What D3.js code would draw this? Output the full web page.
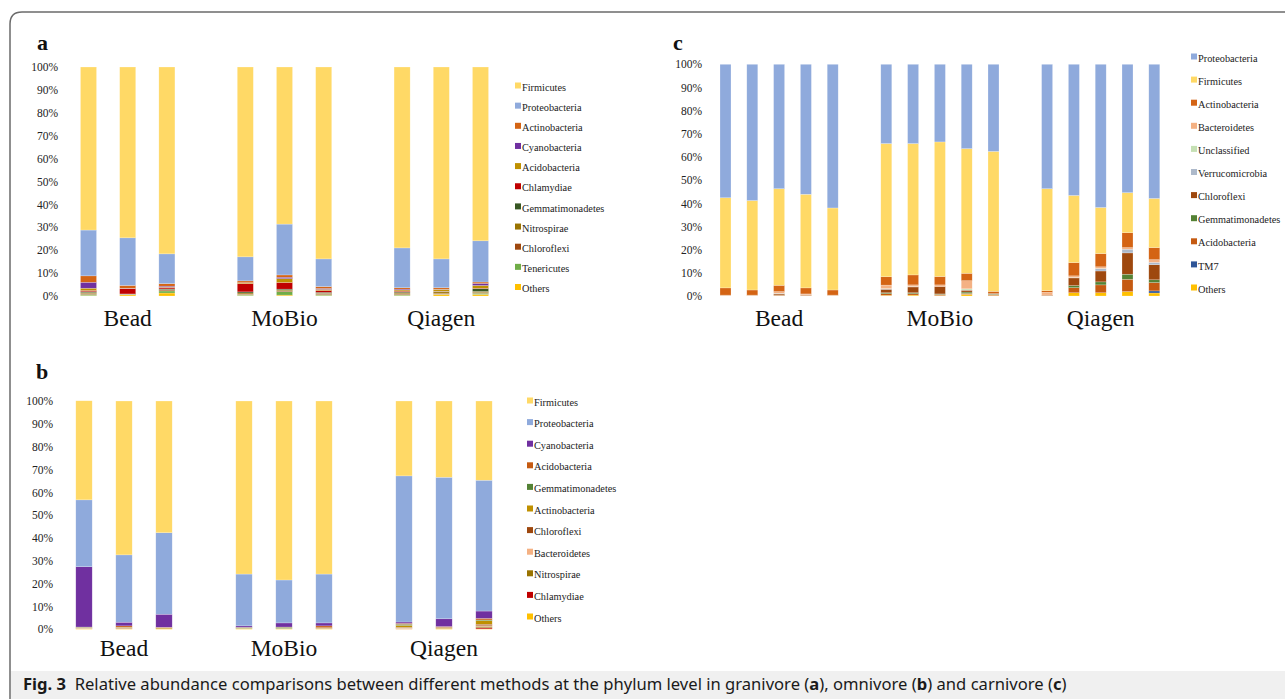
<!DOCTYPE html>
<html>
<head>
<meta charset="utf-8">
<script src="https://cdn.jsdelivr.net/npm/d3@7"></script>
<style>
body { margin: 0; background: #fff; }
svg { display: block; }
</style>
</head>
<body>
<svg id="fig" width="1285" height="699"></svg>
<script>
// ---- data (percent) ----
const groups = ['Bead', 'MoBio', 'Qiagen']
const ticks = [0, 10, 20, 30, 40, 50, 60, 70, 80, 90, 100]

// granivore (a): 3 samples per method
const phylaA = ['Firmicutes', 'Proteobacteria', 'Actinobacteria', 'Cyanobacteria', 'Acidobacteria', 'Chlamydiae',
  'Gemmatimonadetes', 'Nitrospirae', 'Chloroflexi', 'Tenericutes', 'Others']
const colorsA = ['#ffd966', '#8faadc', '#d46414', '#7030a0', '#bf9000', '#c00000',
  '#385723', '#997300', '#9e480e', '#70ad47', '#ffc000']
const valuesA = [
  [71.2, 74.6, 81.6, 82.9, 68.6, 83.8, 79.0, 83.8, 75.9],
  [20.0, 20.8, 13.0, 10.5, 22.2, 12.1, 17.4, 12.6, 18.0],
  [2.8, 1.2, 1.1, 0.8, 1.0, 0.8, 0.6, 0.6, 0.6],
  [2.6, 0.1, 0.4, 0.1, 0.6, 0.4, 0.4, 0.1, 0.9],
  [1.0, 0.1, 0.2, 0.3, 1.7, 0.5, 0.5, 0.8, 1.2],
  [0.5, 2.3, 0.6, 3.6, 2.9, 0.8, 0.4, 0.1, 0.2],
  [0.4, 0.1, 0.3, 0.5, 0.4, 0.4, 0.4, 0.2, 1.2],
  [0.4, 0.1, 0.2, 0.5, 0.4, 0.3, 0.4, 0.6, 0.5],
  [0.4, 0.1, 0.4, 0.3, 0.3, 0.3, 0.3, 0.4, 0.3],
  [0.5, 0.1, 0.9, 0.3, 1.5, 0.4, 0.4, 0.1, 0.5],
  [0.2, 0.5, 1.3, 0.2, 0.4, 0.2, 0.2, 0.7, 0.7]
]

// omnivore (b)
const phylaB = ['Firmicutes', 'Proteobacteria', 'Cyanobacteria', 'Acidobacteria', 'Gemmatimonadetes', 'Actinobacteria',
  'Chloroflexi', 'Bacteroidetes', 'Nitrospirae', 'Chlamydiae', 'Others']
const colorsB = ['#ffd966', '#8faadc', '#7030a0', '#c55a11', '#548235', '#bf9000',
  '#9e480e', '#f4b183', '#997300', '#c00000', '#ffc000']
const valuesB = [
  [43.4, 67.4, 57.7, 75.8, 78.4, 75.8, 32.8, 33.4, 34.7],
  [29.3, 29.5, 35.7, 22.7, 18.8, 21.4, 64.0, 62.0, 57.3],
  [26.4, 1.6, 5.7, 0.6, 1.8, 1.3, 0.6, 3.4, 3.2],
  [0.1, 0.6, 0.2, 0.1, 0.1, 0.8, 0.4, 0.4, 0.7],
  [0.3, 0.1, 0.05, 0.3, 0.5, 0.1, 0.5, 0.1, 0.3],
  [0.1, 0.3, 0.4, 0.3, 0.2, 0.2, 0.8, 0.3, 1.6],
  [0.1, 0.2, 0.05, 0, 0, 0.2, 0.3, 0.1, 0.6],
  [0.05, 0.05, 0, 0, 0, 0, 0.2, 0, 0.3],
  [0.1, 0.05, 0, 0, 0, 0, 0.2, 0, 0.6],
  [0.05, 0, 0, 0, 0, 0, 0.1, 0, 0.5],
  [0.2, 0.2, 0.2, 0.2, 0.2, 0.2, 0.1, 0.3, 0.2]
]

// carnivore (c): 5 samples per method
const phylaC = ['Proteobacteria', 'Firmicutes', 'Actinobacteria', 'Bacteroidetes', 'Unclassified', 'Verrucomicrobia',
  'Chloroflexi', 'Gemmatimonadetes', 'Acidobacteria', 'TM7', 'Others']
const colorsC = ['#8faadc', '#ffd966', '#d46414', '#f4b183', '#c5e0b4', '#adb9ca',
  '#9e480e', '#548235', '#c55a11', '#2f5597', '#ffc000']
const valuesC = [
  [57.6, 58.8, 53.7, 56.1, 62.0, 34.2, 34.2, 33.5, 36.4, 37.6, 53.7, 56.6, 61.8, 55.4, 57.9],
  [38.9, 38.6, 41.7, 40.4, 35.4, 57.5, 56.7, 58.1, 53.8, 60.4, 44.0, 29.0, 19.9, 17.3, 21.2],
  [3.1, 2.2, 2.7, 2.6, 2.2, 3.6, 4.3, 3.6, 3.2, 0.9, 0.7, 5.7, 5.7, 6.4, 5.2],
  [0.1, 0.1, 0.7, 0.3, 0.1, 1.5, 0.7, 0.7, 3.5, 0, 1.2, 0.7, 0.7, 0.7, 1.2],
  [0, 0, 0.1, 0, 0, 0.1, 0.1, 0, 0.5, 0, 0, 0.1, 0.1, 0, 0],
  [0, 0, 0.1, 0, 0, 0.2, 0.1, 0, 0.1, 0, 0, 0.1, 1.0, 1.6, 1.0],
  [0.1, 0.1, 0.5, 0.3, 0.1, 1.5, 2.5, 3.2, 0.8, 0.3, 0.2, 3.3, 4.7, 9.2, 6.5],
  [0, 0, 0.1, 0, 0, 0.4, 0.4, 0.2, 0.6, 0.3, 0, 0.9, 1.3, 2.2, 1.2],
  [0.1, 0.1, 0.3, 0.2, 0.1, 0.7, 0.6, 0.5, 0.4, 0.3, 0.1, 2.2, 3.4, 5.3, 3.6],
  [0, 0, 0, 0, 0, 0, 0, 0, 0, 0, 0, 0, 0, 0, 0.9],
  [0.1, 0.1, 0.1, 0.1, 0.1, 0.3, 0.4, 0.2, 0.7, 0.2, 0.1, 1.4, 1.4, 1.9, 1.3]
]

const serif = '"Liberation Serif", "Times New Roman", serif'
const svg = d3.select('#fig')

// figure frame + caption band
svg.append('rect')
  .attr('x', 11).attr('y', 671).attr('width', 1274).attr('height', 28)
  .attr('fill', '#f0f0f0')
svg.append('path')
  .attr('d', 'M10,699 V24 Q10,12 22,12 H1285')
  .attr('fill', 'none')
  .attr('stroke', '#6b6b6b')
  .attr('stroke-width', 1.5)

function drawPanel(cfg) {
  const per = cfg.values[0].length / groups.length
  const slots = []
  const samples = []
  groups.forEach((g, gi) => {
    if (gi > 0) slots.push('gap' + gi)
    for (let i = 0; i < per; i++) {
      slots.push(g + ' ' + (i + 1))
      samples.push(g + ' ' + (i + 1))
    }
  })

  const x = d3.scaleBand()
    .domain(slots)
    .range(cfg.xRange)
    .paddingInner(0.59)
    .paddingOuter(0.295)

  const y = d3.scaleLinear()
    .domain([0, 100])
    .range(cfg.yRange)

  const rows = samples.map((s, si) => {
    const r = { sample: s }
    cfg.phyla.forEach((p, pi) => { r[p] = cfg.values[pi][si] })
    return r
  })

  const color = d3.scaleOrdinal().domain(cfg.phyla).range(cfg.colors)

  // Excel stacks the last legend entry at the bottom
  const series = d3.stack().keys(cfg.phyla.slice().reverse())(rows)

  const g = svg.append('g')

  g.append('g')
    .selectAll('g')
    .data(series)
    .join('g')
    .attr('fill', d => color(d.key))
    .selectAll('rect')
    .data(d => d)
    .join('rect')
    .attr('x', d => x(d.data.sample))
    .attr('y', d => y(d[1]))
    .attr('width', x.bandwidth())
    .attr('height', d => Math.max(0, y(d[0]) - y(d[1])))
    .attr('stroke', '#ffffff')
    .attr('stroke-opacity', 0.45)
    .attr('stroke-width', 0.5)

  // y axis: labels only
  const axis = g.append('g')
    .attr('transform', `translate(${cfg.tickX},0)`)
    .call(d3.axisLeft(y).tickValues(ticks).tickFormat(d => d + '%').tickSize(0).tickPadding(0))
  axis.select('.domain').remove()
  axis.attr('font-family', serif).attr('font-size', 11.5)
  axis.selectAll('text').attr('fill', '#222')

  // group labels
  groups.forEach(gname => {
    const cs = samples.filter(s => s.startsWith(gname + ' ')).map(s => x(s) + x.bandwidth() / 2)
    g.append('text')
      .attr('x', d3.mean(cs))
      .attr('y', cfg.labelY)
      .attr('text-anchor', 'middle')
      .attr('font-family', serif)
      .attr('font-size', 23.5)
      .attr('fill', '#111')
      .text(gname)
  })

  // panel letter
  g.append('text')
    .attr('x', cfg.letter[1])
    .attr('y', cfg.letter[2])
    .attr('font-family', serif)
    .attr('font-weight', 'bold')
    .attr('font-size', 22)
    .attr('fill', '#111')
    .text(cfg.letter[0])

  // legend
  const leg = g.append('g')
    .selectAll('g')
    .data(cfg.phyla)
    .join('g')
    .attr('transform', (d, i) => `translate(${cfg.legend[0]},${cfg.legend[1] + i * cfg.legend[2]})`)
  leg.append('rect')
    .attr('x', 0).attr('y', -3)
    .attr('width', 6).attr('height', 6)
    .attr('fill', d => color(d))
  leg.append('text')
    .attr('x', 7)
    .attr('y', 1.5)
    .attr('dy', '0.35em')
    .attr('font-family', serif)
    .attr('font-size', 10.3)
    .attr('fill', '#222')
    .text(d => d)
}

drawPanel({
  phyla: phylaA, colors: colorsA, values: valuesA,
  xRange: [68.9, 500.1], yRange: [296, 67], tickX: 58,
  labelY: 326, letter: ['a', 37, 50], legend: [515, 85.5, 20.15]
})

drawPanel({
  phyla: phylaB, colors: colorsB, values: valuesB,
  xRange: [64, 504], yRange: [629.3, 401], tickX: 53,
  labelY: 656, letter: ['b', 36, 379], legend: [527, 400.5, 21.6]
})

drawPanel({
  phyla: phylaC, colors: colorsC, values: valuesC,
  xRange: [712.1, 1167.7], yRange: [296, 64.3], tickX: 702,
  labelY: 326, letter: ['c', 673, 50], legend: [1191, 56.5, 23.1]
})

// caption
const cap = svg.append('text')
  .attr('x', 0)
  .attr('y', 690)
  .attr('font-family', '"Noto Sans", "Open Sans", sans-serif')
  .attr('font-size', 15.5)
  .attr('fill', '#1a1a1a')
const parts = [
  ['Fig. 3', true], ['  Relative abundance comparisons between different methods at the phylum level in granivore (', false],
  ['a', true], ['), omnivore (', false], ['b', true], [') and carnivore (', false], ['c', true], [')', false]
]
parts.forEach(p => {
  cap.append('tspan')
    .attr('font-weight', p[1] ? 'bold' : 'normal')
    .attr('xml:space', 'preserve')
    .text(p[0])
})
cap.attr('xml:space', 'preserve')
const w = cap.node().getComputedTextLength()
cap.attr('transform', `translate(23,0) scale(${1045 / w},1)`)
</script>
</body>
</html>
